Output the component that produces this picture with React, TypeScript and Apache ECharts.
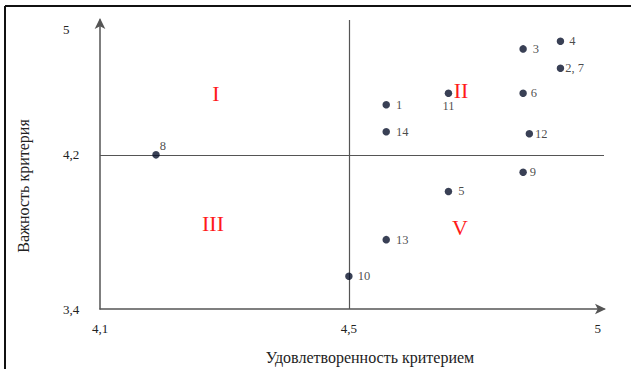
import React, { useEffect, useRef } from "react";
import * as echarts from "echarts";

// Criteria numbers (point labels)
const pointLabels = ["1", "2, 7", "3", "4", "5", "6", "8", "9", "10", "11", "12", "13", "14"];
// Satisfaction with criterion (x)
const satisfaction = [4.56, 4.84, 4.78, 4.84, 4.66, 4.78, 4.19, 4.78, 4.5, 4.66, 4.79, 4.56, 4.56];
// Importance of criterion (y)
const importance = [4.46, 4.65, 4.75, 4.79, 4.01, 4.52, 4.2, 4.11, 3.57, 4.52, 4.31, 3.76, 4.32];

// Axis tick labels
const xTickValues = [4.1, 4.5, 4.9];
const xTickLabels = ["4,1", "4,5", "5"];
const yTickValues = [3.4, 4.2, 4.85];
const yTickLabels = ["3,4", "4,2", "5"];

// Quadrant dividers
const xDivider = 4.5;
const yDivider = 4.2;

const quadrantNames = ["I", "II", "III", "V"];
const xTitle = "Удовлетворенность критерием";
const yTitle = "Важность критерия";

// label placement per point (style only)
const labelPlacement: Record<string, any> = {
  "1": { position: "right", distance: 6 },
  "2, 7": { position: "right", distance: 1 },
  "3": { position: "right", distance: 6 },
  "4": { position: "right", distance: 5 },
  "5": { position: "right", distance: 6 },
  "6": { position: "right", distance: 4 },
  "8": { position: "right", distance: 0, offset: [0, -9] },
  "9": { position: "right", distance: 3 },
  "10": { position: "right", distance: 5 },
  "11": { position: "bottom", distance: 3 },
  "12": { position: "right", distance: 2 },
  "13": { position: "right", distance: 6 },
  "14": { position: "right", distance: 6 },
};

const quadrantPos = [
  [216, 93],
  [461, 90],
  [213, 223],
  [460, 227],
];

export default function App() {
  const ref = useRef<HTMLDivElement>(null);
  useEffect(() => {
    if (!ref.current) return;
    const chart = echarts.init(ref.current, undefined, { renderer: "svg" });
    const font = "Liberation Serif";
    const data = pointLabels.map((name, i) => ({
      name,
      value: [satisfaction[i], importance[i]],
      label: {
        show: true,
        formatter: name,
        color: "#1a1a1a",
        fontFamily: font,
        fontSize: 12.5,
        ...labelPlacement[name],
      },
    }));
    const axisLineStyle = { color: "#555", width: 1.5 };
    chart.setOption({
      animation: false,
      backgroundColor: "#ffffff",
      textStyle: { fontFamily: font },
      grid: { left: 100, right: 30, top: 20, bottom: 60 },
      xAxis: {
        type: "value",
        min: 4.1,
        max: 4.91,
        splitLine: { show: false },
        axisTick: { show: false },
        axisLine: {
          show: true,
          onZero: false,
          symbol: ["none", "arrow"],
          symbolSize: [8, 11],
          symbolOffset: [0, 2],
          lineStyle: axisLineStyle,
        },
        axisLabel: {
          customValues: xTickValues,
          formatter: (v: number) => {
            const idx = xTickValues.findIndex((t) => Math.abs(t - v) < 1e-6);
            return idx >= 0 ? xTickLabels[idx] : "";
          },
          margin: 13,
          color: "#222",
          fontSize: 13,
          fontFamily: font,
          showMinLabel: true,
          showMaxLabel: true,
        },
      },
      yAxis: {
        type: "value",
        min: 3.4,
        max: 4.9,
        splitLine: { show: false },
        axisTick: { show: false },
        axisLine: {
          show: true,
          onZero: false,
          symbol: ["none", "arrow"],
          symbolSize: [8, 11],
          symbolOffset: [0, 2],
          lineStyle: axisLineStyle,
        },
        axisLabel: {
          customValues: yTickValues,
          formatter: (v: number) => {
            const idx = yTickValues.findIndex((t) => Math.abs(t - v) < 1e-6);
            return idx >= 0 ? yTickLabels[idx] : "";
          },
          align: "left",
          margin: 37,
          color: "#222",
          fontSize: 13,
          fontFamily: font,
          showMinLabel: true,
          showMaxLabel: true,
        },
      },
      series: [
        {
          type: "scatter",
          symbol: "circle",
          symbolSize: 7.5,
          itemStyle: { color: "#08102a" },
          data,
          markLine: {
            silent: true,
            symbol: "none",
            label: { show: false },
            lineStyle: { color: "#555", width: 1.2, type: "solid" },
            data: [{ xAxis: xDivider }, { yAxis: yDivider }],
          },
          z: 5,
        },
      ],
      graphic: [
        {
          type: "line",
          shape: { x1: 5, y1: 6, x2: 631, y2: 6 },
          style: { stroke: "#111", lineWidth: 2 },
        },
        {
          type: "line",
          shape: { x1: 5, y1: 6, x2: 5, y2: 369 },
          style: { stroke: "#111", lineWidth: 2 },
        },
        ...quadrantNames.map((q, i) => ({
          type: "text",
          x: quadrantPos[i][0],
          y: quadrantPos[i][1],
          style: {
            text: q,
            fill: "#ff1a1a",
            font: `22px ${font}`,
            align: "center",
            verticalAlign: "middle",
          },
        })),
        {
          type: "text",
          x: 370,
          y: 357,
          style: {
            text: xTitle,
            fill: "#222",
            font: `16px ${font}`,
            align: "center",
            verticalAlign: "middle",
          },
        },
        {
          type: "text",
          x: 23,
          y: 186,
          rotation: Math.PI / 2,
          style: {
            text: yTitle,
            fill: "#222",
            font: `16px ${font}`,
            align: "center",
            verticalAlign: "middle",
          },
        },
      ],
    });
    return () => chart.dispose();
  }, []);
  return (
    <div
      ref={ref}
      style={{ position: "fixed", left: 0, top: 0, width: 634, height: 369, background: "#fff" }}
    />
  );
}
